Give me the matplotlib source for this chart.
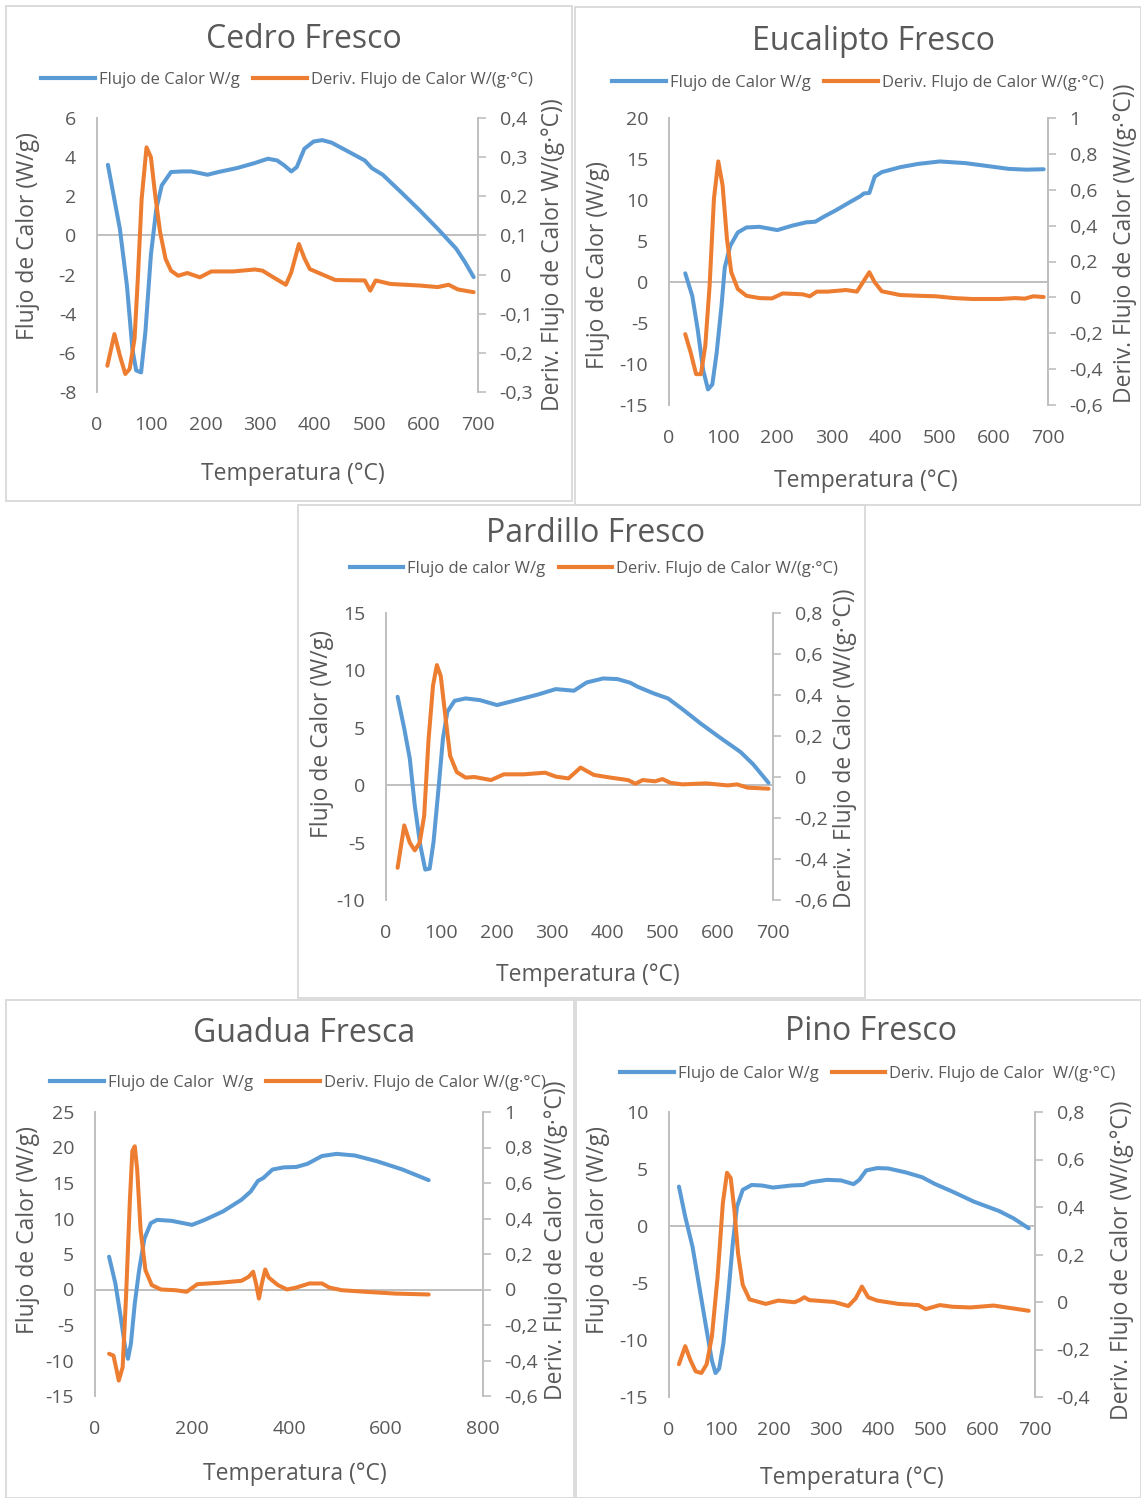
import matplotlib
matplotlib.use('Agg')
import matplotlib.pyplot as plt
from matplotlib.patches import Rectangle
from matplotlib.lines import Line2D

plt.rcParams['font.family'] = ['Open Sans', 'DejaVu Sans']

W, H = 1141, 1498
BLUE = '#5B9BD5'
ORANGE = '#ED7D31'
TXT = '#595959'
AXC = '#BFBFBF'
FRAME = '#D9D9D9'

# ---------------- Cedro Fresco ----------------
cedro_T_flujo = [20, 42, 55, 65, 72, 81, 89, 99, 109, 119, 136, 156, 173, 186, 203, 223, 257, 290, 314, 331,
                 344, 357, 367, 381, 398, 414, 431, 458, 492, 505, 525, 559, 593, 626, 660, 676, 692]
cedro_flujo = [3.61, 0.34, -2.56, -5.8, -6.9, -7.0, -4.9, -1.0, 1.36, 2.56, 3.24, 3.27, 3.27, 3.2, 3.1, 3.24,
               3.44, 3.7, 3.92, 3.83, 3.58, 3.27, 3.49, 4.43, 4.8, 4.87, 4.74, 4.34, 3.83, 3.44, 3.1, 2.2,
               1.28, 0.34, -0.68, -1.36, -2.13]
cedro_T_deriv = [19, 32, 42, 52, 60, 69, 75, 82, 91, 99, 107, 116, 126, 136, 149, 166, 189, 210, 250, 290, 304,
                 324, 347, 357, 371, 381, 391, 411, 438, 492, 502, 512, 539, 593, 626, 646, 663, 692]
cedro_deriv = [-0.233, -0.152, -0.207, -0.254, -0.241, -0.164, -0.011, 0.193, 0.325, 0.30, 0.202, 0.108, 0.04,
               0.01, -0.003, 0.004, -0.007, 0.008, 0.008, 0.013, 0.01, -0.007, -0.026, 0.006, 0.078, 0.042,
               0.014, 0.002, -0.014, -0.015, -0.041, -0.015, -0.024, -0.028, -0.032, -0.026, -0.038, -0.045]
cedro_xticks = [0, 100, 200, 300, 400, 500, 600, 700]
cedro_lticks = [-8, -6, -4, -2, 0, 2, 4, 6]
cedro_rticks = [-0.3, -0.2, -0.1, 0, 0.1, 0.2, 0.3, 0.4]

# ---------------- Eucalipto Fresco ----------------
euca_T_flujo = [30, 43, 53, 63, 72, 80, 88, 97, 103, 113, 127, 143, 167, 200, 227, 253, 270, 287, 307, 333,
                353, 360, 370, 380, 393, 427, 460, 500, 547, 593, 627, 660, 692]
euca_flujo = [1.06, -1.7, -5.8, -10.7, -13.1, -12.5, -8.65, -2.9, 1.76, 4.4, 6.04, 6.65, 6.73, 6.33, 6.86,
              7.27, 7.35, 8.0, 8.7, 9.7, 10.45, 10.8, 10.86, 12.86, 13.4, 14.0, 14.4, 14.7, 14.5, 14.1, 13.8,
              13.7, 13.75]
euca_T_deriv = [30, 40, 50, 59, 67, 75, 83, 91, 99, 107, 115, 127, 143, 167, 190, 210, 247, 260, 273, 293, 327,
                347, 360, 370, 380, 393, 427, 460, 493, 527, 560, 610, 640, 657, 673, 692]
euca_deriv = [-0.205, -0.307, -0.428, -0.428, -0.27, 0.065, 0.55, 0.758, 0.624, 0.326, 0.14, 0.047, 0.009,
              -0.004, -0.006, 0.022, 0.017, 0.006, 0.032, 0.032, 0.041, 0.032, 0.093, 0.14, 0.084, 0.034,
              0.013, 0.009, 0.006, -0.004, -0.009, -0.009, -0.004, -0.007, 0.006, 0.002]
euca_xticks = [0, 100, 200, 300, 400, 500, 600, 700]
euca_lticks = [-15, -10, -5, 0, 5, 10, 15, 20]
euca_rticks = [-0.6, -0.4, -0.2, 0, 0.2, 0.4, 0.6, 0.8, 1]

# ---------------- Pardillo Fresco ----------------
pard_T_flujo = [21, 33, 43, 52, 62, 71, 79, 86, 95, 103, 111, 124, 144, 170, 201, 236, 275, 307, 340, 363,
                393, 419, 442, 455, 484, 510, 536, 569, 602, 641, 664, 692]
pard_flujo = [7.7, 4.94, 2.33, -1.74, -5.23, -7.35, -7.27, -4.94, -0.29, 4.07, 6.4, 7.35, 7.56, 7.41, 6.98,
              7.41, 7.9, 8.37, 8.23, 8.95, 9.3, 9.24, 8.92, 8.58, 8.0, 7.56, 6.63, 5.38, 4.22, 2.9, 1.83, 0.2]
pard_T_deriv = [21, 33, 43, 52, 61, 69, 77, 85, 92, 99, 108, 116, 128, 144, 160, 190, 213, 249, 288, 307, 330,
                352, 376, 406, 438, 451, 464, 487, 500, 514, 536, 579, 618, 635, 654, 692]
pard_deriv = [-0.443, -0.236, -0.32, -0.358, -0.32, -0.19, 0.184, 0.445, 0.546, 0.493, 0.282, 0.103, 0.024,
              -0.003, 0.0, -0.015, 0.013, 0.013, 0.021, 0.002, -0.007, 0.046, 0.01, -0.003, -0.015, -0.033,
              -0.015, -0.021, -0.01, -0.028, -0.036, -0.031, -0.041, -0.036, -0.052, -0.057]
pard_xticks = [0, 100, 200, 300, 400, 500, 600, 700]
pard_lticks = [-10, -5, 0, 5, 10, 15]
pard_rticks = [-0.6, -0.4, -0.2, 0, 0.2, 0.4, 0.6, 0.8]

# ---------------- Guadua Fresca ----------------
guad_T_flujo = [29, 42, 53, 62, 68, 74, 82, 91, 102, 115, 128, 158, 200, 226, 264, 302, 321, 336, 347, 366,
                389, 415, 438, 468, 498, 536, 581, 634, 688]
guad_flujo = [4.62, 0.85, -3.87, -8.1, -9.76, -7.64, -1.98, 2.74, 7.2, 9.34, 9.81, 9.67, 9.1, 9.8, 11.0, 12.64,
              13.8, 15.3, 15.7, 16.9, 17.2, 17.26, 17.7, 18.8, 19.1, 18.87, 18.07, 16.9, 15.4]
guad_T_deriv = [29, 38, 44, 49, 57, 64, 72, 77, 82, 87, 94, 104, 117, 136, 166, 189, 211, 257, 302, 317, 326,
                332, 338, 344, 351, 358, 377, 396, 415, 442, 468, 483, 509, 558, 619, 688]
guad_deriv = [-0.362, -0.372, -0.447, -0.513, -0.438, -0.04, 0.506, 0.78, 0.807, 0.675, 0.336, 0.109, 0.025,
              0.0, -0.004, -0.013, 0.03, 0.038, 0.049, 0.072, 0.1, 0.034, -0.051, 0.034, 0.113, 0.068, 0.025,
              0.0, 0.011, 0.034, 0.034, 0.011, -0.004, -0.013, -0.023, -0.028]
guad_xticks = [0, 200, 400, 600, 800]
guad_lticks = [-15, -10, -5, 0, 5, 10, 15, 20, 25]
guad_rticks = [-0.6, -0.4, -0.2, 0, 0.2, 0.4, 0.6, 0.8, 1]

# ---------------- Pino Fresco ----------------
pino_T_flujo = [19, 31, 45, 58, 72, 82, 89, 96, 104, 113, 122, 130, 141, 158, 178, 199, 233, 257, 271, 302,
                329, 353, 364, 377, 398, 419, 453, 484, 508, 542, 583, 631, 659, 688]
pino_flujo = [3.46, 0.82, -1.82, -5.34, -9.15, -11.8, -12.9, -12.5, -10.3, -6.2, -1.53, 1.7, 3.17, 3.6, 3.55,
              3.37, 3.55, 3.6, 3.84, 4.05, 4.0, 3.67, 4.05, 4.87, 5.08, 5.05, 4.7, 4.28, 3.7, 3.02, 2.14,
              1.32, 0.67, -0.2]
pino_T_deriv = [19, 31, 41, 51, 62, 72, 82, 93, 103, 111, 118, 125, 132, 141, 154, 185, 209, 240, 250, 259, 268,
                316, 343, 357, 369, 381, 398, 439, 477, 491, 518, 542, 576, 621, 688]
pino_deriv = [-0.262, -0.186, -0.245, -0.292, -0.299, -0.262, -0.146, 0.107, 0.417, 0.544, 0.522, 0.389,
              0.206, 0.072, 0.011, -0.008, 0.006, -0.001, 0.008, 0.02, 0.008, 0.0, -0.017, 0.015, 0.065, 0.02,
              0.006, -0.008, -0.013, -0.03, -0.013, -0.02, -0.023, -0.015, -0.037]
pino_xticks = [0, 100, 200, 300, 400, 500, 600, 700]
pino_lticks = [-15, -10, -5, 0, 5, 10]
pino_rticks = [-0.4, -0.2, 0, 0.2, 0.4, 0.6, 0.8]

fig = plt.figure(figsize=(W / 100, H / 100), dpi=100)


def fx(x):
    return x / W


def fy(y):
    return 1 - y / H


def fmt(v):
    s = ('%g' % v).replace('.', ',')
    return '0' if s in ('-0', '0') else s


def frame(l, t, r, b):
    fig.patches.append(Rectangle((fx(l), fy(b)), (r - l) / W, (b - t) / H, transform=fig.transFigure,
                                 fill=False, ec=FRAME, lw=1.3, zorder=-5))


def panel(box, xlim, ylim, y2lim, xticks, lticks, rticks, Tf, vf, Td, vd,
          title, tpos, leg, lpos, ylab, ylpos, y2lab, y2lpos, xlpos):
    l, t, r, b = box
    ax = fig.add_axes([fx(l), fy(b), (r - l) / W, (b - t) / H])
    ax.set_xlim(*xlim)
    ax.set_ylim(*ylim)
    ax.axhline(0, color=AXC, lw=1.4, zorder=0)
    ax.plot(Tf, vf, color=BLUE, lw=2.9, solid_capstyle='round', solid_joinstyle='round', zorder=2)
    for s in ('top', 'right', 'bottom'):
        ax.spines[s].set_visible(False)
    ax.spines['left'].set_color(AXC)
    ax.spines['left'].set_linewidth(1.4)
    ax.set_xticks(xticks)
    ax.set_xticklabels([str(v) for v in xticks])
    ax.set_yticks(lticks)
    ax.set_yticklabels([str(v) for v in lticks])
    ax.tick_params(axis='x', length=0, pad=17, labelsize=14, labelcolor=TXT)
    ax.tick_params(axis='y', length=0, pad=15, labelsize=14, labelcolor=TXT)
    ax.patch.set_visible(False)

    ax2 = ax.twinx()
    ax2.set_ylim(*y2lim)
    ax2.plot(Td, vd, color=ORANGE, lw=2.9, solid_capstyle='round', solid_joinstyle='round', zorder=3)
    for s in ('top', 'left', 'bottom'):
        ax2.spines[s].set_visible(False)
    ax2.spines['right'].set_color(AXC)
    ax2.spines['right'].set_linewidth(1.4)
    ax2.set_yticks(rticks)
    ax2.set_yticklabels([fmt(v) for v in rticks])
    ax2.tick_params(axis='y', length=5.5, width=1.2, color=AXC, pad=10, labelsize=14, labelcolor=TXT)

    fig.text(fx(tpos[0]), fy(tpos[1]), title, ha='center', va='center', fontsize=23, color=TXT)
    fig.text(fx(ylpos[0]), fy(ylpos[1]), ylab, rotation=90, ha='center', va='center', fontsize=16.5, color=TXT)
    fig.text(fx(y2lpos[0]), fy(y2lpos[1]), y2lab, rotation=90, ha='center', va='center', fontsize=16.5, color=TXT)
    fig.text(fx(xlpos[0]), fy(xlpos[1]), 'Temperatura (°C)', ha='center', va='center', fontsize=16.5, color=TXT)
    handles = [Line2D([], [], color=BLUE, lw=3), Line2D([], [], color=ORANGE, lw=3)]
    fig.legend(handles, leg, loc='center', bbox_to_anchor=(fx(lpos[0]), fy(lpos[1])), ncol=2, frameon=False,
               handlelength=3.2, handletextpad=0.25, columnspacing=0.8, fontsize=12, labelcolor=TXT,
               borderaxespad=0, borderpad=0)


# frames
frame(6, 6, 572, 501)
frame(575, 7, 1141, 505)
frame(298, 505, 865, 998)
frame(6, 1000, 574, 1498)
frame(576, 1000, 1141, 1498)

panel((97, 118, 478, 392), (0, 700), (-8, 6), (-0.3, 0.4), cedro_xticks, cedro_lticks, cedro_rticks,
      cedro_T_flujo, cedro_flujo, cedro_T_deriv, cedro_deriv,
      'Cedro Fresco', (304, 39), ['Flujo de Calor W/g', 'Deriv. Flujo de Calor W/(g·°C)'], (287, 80),
      'Flujo de Calor (W/g)', (28, 236), 'Deriv. Flujo de Calor W/(g·°C))', (553, 255), (293, 474))

panel((669, 118, 1048, 405), (0, 700), (-15, 20), (-0.6, 1.0), euca_xticks, euca_lticks, euca_rticks,
      euca_T_flujo, euca_flujo, euca_T_deriv, euca_deriv,
      'Eucalipto Fresco', (874, 42), ['Flujo de Calor W/g', 'Deriv. Flujo de Calor W/(g·°C)'], (858, 83),
      'Flujo de Calor (W/g)', (598, 265), 'Deriv. Flujo de Calor (W/(g·°C))', (1125, 243), (866, 481))

panel((386, 613, 773, 900), (0, 700), (-10, 15), (-0.6, 0.8), pard_xticks, pard_lticks, pard_rticks,
      pard_T_flujo, pard_flujo, pard_T_deriv, pard_deriv,
      'Pardillo Fresco', (596, 533), ['Flujo de calor W/g', 'Deriv. Flujo de Calor W/(g·°C)'], (594, 569),
      'Flujo de Calor (W/g)', (322, 734), 'Deriv. Flujo de Calor (W/(g·°C))', (845, 748), (588, 975))

panel((95, 1112, 483, 1396), (0, 800), (-15, 25), (-0.6, 1.0), guad_xticks, guad_lticks, guad_rticks,
      guad_T_flujo, guad_flujo, guad_T_deriv, guad_deriv,
      'Guadua Fresca', (304, 1034), ['Flujo de Calor  W/g', 'Deriv. Flujo de Calor W/(g·°C)'], (298, 1083),
      'Flujo de Calor (W/g)', (28, 1230), 'Deriv. Flujo de Calor (W/(g·°C))', (556, 1240), (295, 1474))

panel((669, 1112, 1035, 1397), (0, 700), (-15, 10), (-0.4, 0.8), pino_xticks, pino_lticks, pino_rticks,
      pino_T_flujo, pino_flujo, pino_T_deriv, pino_deriv,
      'Pino Fresco', (871, 1032), ['Flujo de Calor W/g', 'Deriv. Flujo de Calor  W/(g·°C)'], (868, 1074),
      'Flujo de Calor (W/g)', (598, 1230), 'Deriv. Flujo de Calor (W/(g·°C))', (1122, 1260), (852, 1478))

fig.savefig('out.png', dpi=100, facecolor='white')
